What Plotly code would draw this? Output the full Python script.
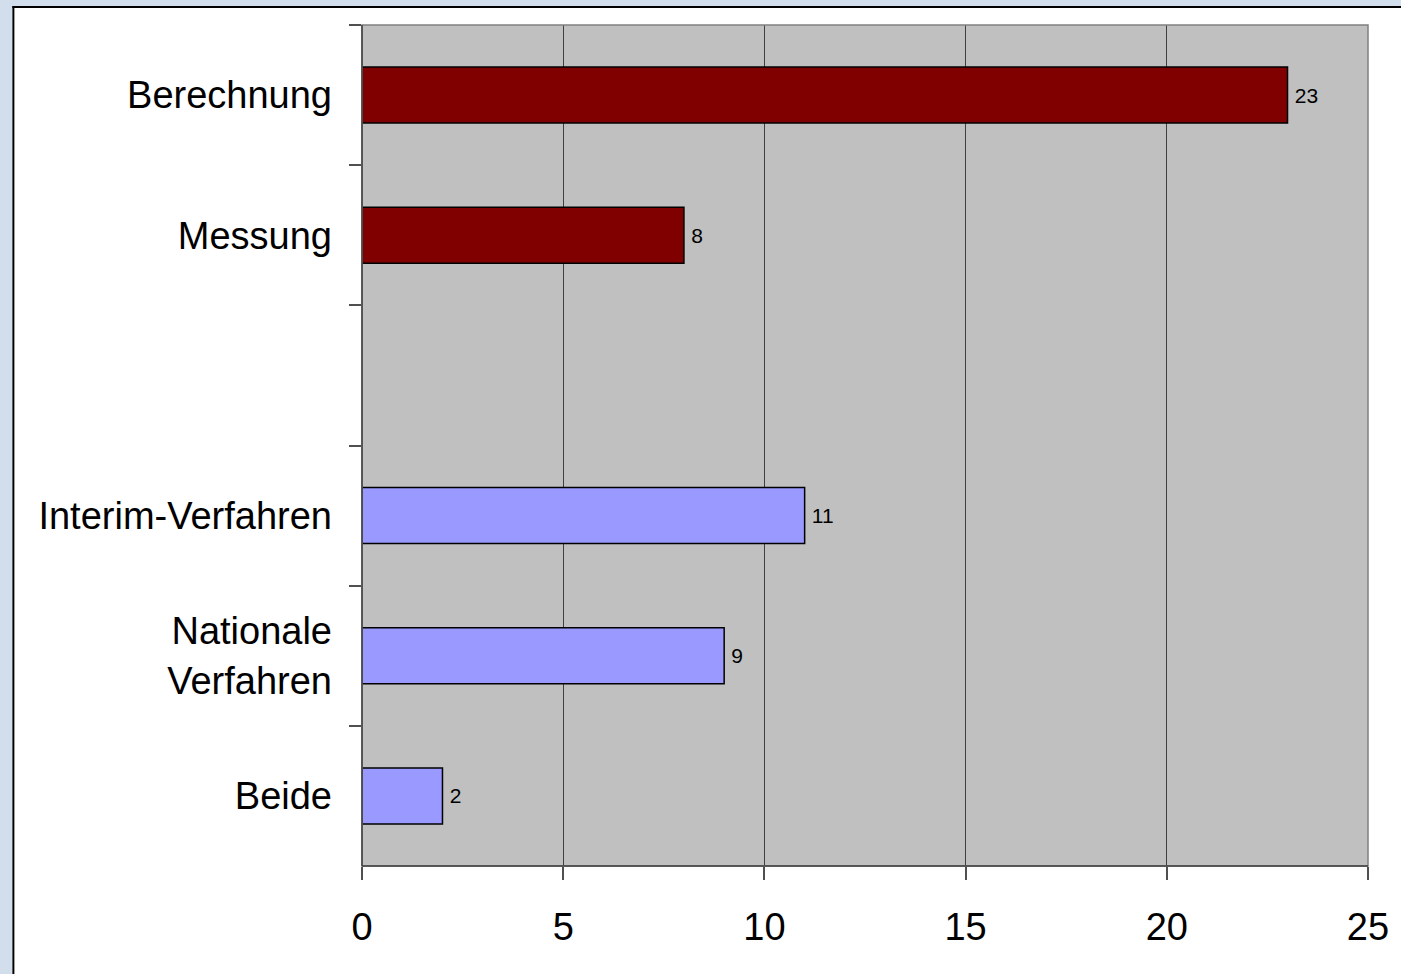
import plotly.graph_objects as go

categories = ["Berechnung", "Messung", " ", "Interim-Verfahren", "Nationale<br>Verfahren", "Beide"]
values = [23, 8, None, 11, 9, 2]
bar_colors = ["#800000", "#800000", "#800000", "#9999ff", "#9999ff", "#9999ff"]
x_ticks = [0, 5, 10, 15, 20, 25]

W, H = 1401, 974
L, R, T, B = 362, 1372, 25, 866
PAGE_BG = "#d2deeb"

fig = go.Figure()
fig.add_trace(go.Bar(
    y=categories, x=values, orientation="h",
    marker=dict(color=bar_colors, line=dict(color="#000000", width=1.5)),
    width=0.4,
    text=[("" if v is None else "\u2009" + str(v)) for v in values],
    textposition="outside",
    textfont=dict(family="Liberation Sans, Arial", size=21, color="#000000"),
    cliponaxis=False,
    hoverinfo="skip",
))

def px_to_paper_x(px):
    return (px - L) / (R - L)

def px_to_paper_y(py):
    return (B - py) / (B - T)

# light blue page strips (left and top) outside the white panel
fig.add_shape(type="rect", xref="paper", yref="paper", layer="above",
              x0=px_to_paper_x(-5), x1=px_to_paper_x(11),
              y0=px_to_paper_y(1000), y1=px_to_paper_y(-5),
              fillcolor=PAGE_BG, line=dict(width=0))
fig.add_shape(type="rect", xref="paper", yref="paper", layer="above",
              x0=px_to_paper_x(-5), x1=px_to_paper_x(1420),
              y0=px_to_paper_y(6), y1=px_to_paper_y(-5),
              fillcolor=PAGE_BG, line=dict(width=0))
# panel border
fig.add_shape(type="line", xref="paper", yref="paper", layer="above",
              x0=px_to_paper_x(12), x1=px_to_paper_x(12),
              y0=px_to_paper_y(1000), y1=px_to_paper_y(6),
              line=dict(color="#000000", width=2))
fig.add_shape(type="line", xref="paper", yref="paper", layer="above",
              x0=px_to_paper_x(11), x1=px_to_paper_x(1420),
              y0=px_to_paper_y(7), y1=px_to_paper_y(7),
              line=dict(color="#000000", width=2))
# plot area frame
fig.add_shape(type="rect", xref="paper", yref="paper", layer="above",
              x0=0, x1=1, y0=0, y1=1,
              fillcolor="rgba(0,0,0,0)", line=dict(color="#808080", width=1.5))
fig.add_shape(type="line", xref="paper", yref="paper", layer="above",
              x0=0, x1=0, y0=0, y1=1, line=dict(color="#404040", width=1.5))
fig.add_shape(type="line", xref="paper", yref="paper", layer="above",
              x0=0, x1=1, y0=0, y1=0, line=dict(color="#404040", width=1.5))

fig.update_layout(
    width=W, height=H,
    margin=dict(l=L, r=W - R, t=T, b=H - B, pad=0),
    paper_bgcolor="#ffffff",
    plot_bgcolor="#c0c0c0",
    showlegend=False,
    font=dict(family="Liberation Sans, Arial", color="#000000"),
    xaxis=dict(
        range=[0, 25], tickvals=x_ticks, ticktext=[str(t) for t in x_ticks],
        showgrid=True, gridcolor="#404040", gridwidth=1,
        zeroline=False, showline=False,
        ticks="outside", ticklen=13, tickwidth=1.5, tickcolor="#505050",
        tickfont=dict(size=38), ticklabelstandoff=14,
        fixedrange=True,
    ),
    yaxis=dict(
        type="category", categoryorder="array", categoryarray=categories,
        autorange="reversed",
        tickson="boundaries", ticks="outside", ticklen=12, tickwidth=1.5, tickcolor="#505050",
        showgrid=False, zeroline=False, showline=False,
        tickfont=dict(size=38), ticklabelstandoff=29,
        fixedrange=True,
    ),
)

fig.write_html(
    "out.html",
    config={"displayModeBar": False},
    post_script="document.body.style.margin='0px';document.body.style.background='" + PAGE_BG + "';",
)
